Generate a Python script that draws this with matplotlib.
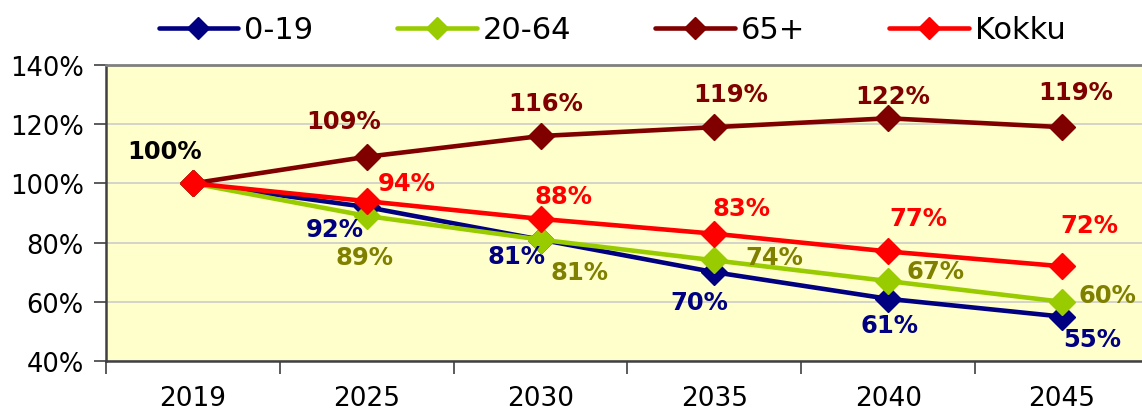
import numpy as np
import matplotlib.pyplot as plt
from matplotlib.lines import Line2D
from matplotlib.ticker import FixedLocator

plt.rcParams['font.family'] = ['DejaVu Sans']

years = ['2019', '2025', '2030', '2035', '2040', '2045']
age_0_19 = [100, 92, 81, 70, 61, 55]
age_20_64 = [100, 89, 81, 74, 67, 60]
age_65 = [100, 109, 116, 119, 122, 119]
total = [100, 94, 88, 83, 77, 72]

# label offsets in pixels (dx, dy) from each point; 2019 labelled only once
off_0_19 = [None, (-32, -22), (-24, -16), (-15, -30), (1, -26), (30, -22)]
off_20_64 = [None, (-2, -41), (39, -32), (60, 3), (47, 10), (45, 7)]
off_65 = [(-28, 32), (-23, 36), (5, 33), (16, 33), (4, 22), (14, 35)]
off_total = [None, (40, 18), (23, 23), (27, 26), (30, 33), (27, 41)]

fig = plt.figure(figsize=(11.42, 4.10), dpi=100)
ax = fig.add_axes([106 / 1142, 48 / 410, 1043 / 1142, 296 / 410])
ax.set_facecolor('#FFFFCC')

x = np.arange(len(years))
series = [
    ('0-19', age_0_19, '#000080', '#000080', off_0_19),
    ('20-64', age_20_64, '#99CC00', '#808000', off_20_64),
    ('65+', age_65, '#800000', '#800000', off_65),
    ('Kokku', total, '#FF0000', '#FF0000', off_total),
]
handles = []
for name, vals, col, lcol, offs in series:
    ax.plot(x, vals, color=col, lw=3.3, marker='D', ms=13, mec=col, mfc=col,
            zorder=3)
    handles.append(Line2D([], [], color=col, lw=3.3, marker='D', ms=11,
                          mec=col, mfc=col, solid_capstyle='round', label=name))
    for i, (v, o) in enumerate(zip(vals, offs)):
        if o is None:
            continue
        c = 'black' if i == 0 else lcol
        ax.annotate(f'{v}%', (x[i], v), xytext=o, textcoords='offset pixels',
                    ha='center', va='center', fontsize=17.5, fontweight='bold',
                    color=c, zorder=4)

ax.set_xlim(-0.5, 5.5)
ax.set_ylim(40, 140)
ax.set_yticks(range(40, 141, 20))
ax.set_yticklabels([f'{t}%' for t in range(40, 141, 20)], fontsize=18.5)
ax.yaxis.grid(True, color='#C8C8C8', lw=1.1)
ax.set_axisbelow(True)
ax.set_xticks(x)
ax.set_xticklabels(years, fontsize=19)
ax.tick_params(axis='x', which='major', length=0, pad=17)
ax.xaxis.set_minor_locator(FixedLocator(np.arange(-0.5, 6, 1)))
ax.tick_params(axis='x', which='minor', length=9, width=1.2, color='#404040')
ax.tick_params(axis='y', length=9, width=1.2, color='#404040', pad=7)

for s in ['left', 'bottom']:
    ax.spines[s].set_color('#404040')
    ax.spines[s].set_linewidth(1.8)
ax.spines['top'].set_color('#808080')
ax.spines['top'].set_linewidth(2)
ax.spines['right'].set_visible(False)

fig.legend(handles=handles, loc='center', bbox_to_anchor=(0.536, 0.925),
           ncol=4, frameon=False, fontsize=22, handlelength=2.6,
           columnspacing=2.75, handletextpad=0.2, borderpad=0)

fig.savefig('out.png', dpi=100)
